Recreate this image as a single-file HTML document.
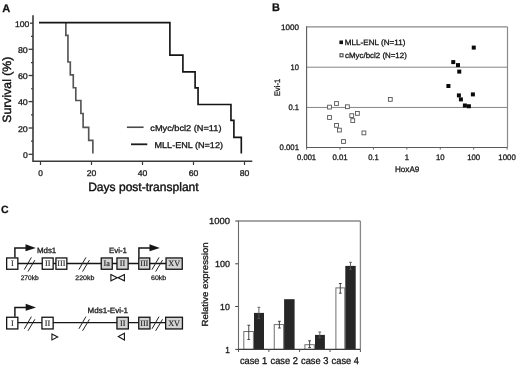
<!DOCTYPE html>
<html><head><meta charset="utf-8"><title>Figure</title>
<style>
html,body{margin:0;padding:0;background:#fff;}
body{width:520px;height:368px;overflow:hidden;}
svg{display:block;font-family:"Liberation Sans", Arial, Helvetica, sans-serif;text-rendering:geometricPrecision;}
</style></head>
<body>
<svg width="520" height="368" viewBox="0 0 520 368">
<rect width="520" height="368" fill="#fff"/>
<text x="2.2" y="11.8" font-size="11.0" text-anchor="start" fill="#111" stroke="#111" stroke-width="0.25" font-weight="bold" textLength="8.0" lengthAdjust="spacingAndGlyphs">A</text>
<path d="M33 15.2 V161.3 H252.3" fill="none" stroke="#3a3a3a" stroke-width="1.6"/>
<line x1="30.0" y1="23.2" x2="33" y2="23.2" stroke="#3a3a3a" stroke-width="1.3"/>
<text x="29.3" y="26.8" font-size="8.3" text-anchor="end" fill="#1a1a1a" stroke="#1a1a1a" stroke-width="0.3" textLength="14.4" lengthAdjust="spacingAndGlyphs">100</text>
<line x1="28.6" y1="49.3" x2="33" y2="49.3" stroke="#3a3a3a" stroke-width="1.3"/>
<text x="27.8" y="52.9" font-size="8.3" text-anchor="end" fill="#1a1a1a" stroke="#1a1a1a" stroke-width="0.3" textLength="9.9" lengthAdjust="spacingAndGlyphs">80</text>
<line x1="28.6" y1="75.5" x2="33" y2="75.5" stroke="#3a3a3a" stroke-width="1.3"/>
<text x="27.8" y="79.1" font-size="8.3" text-anchor="end" fill="#1a1a1a" stroke="#1a1a1a" stroke-width="0.3" textLength="9.9" lengthAdjust="spacingAndGlyphs">60</text>
<line x1="28.6" y1="101.6" x2="33" y2="101.6" stroke="#3a3a3a" stroke-width="1.3"/>
<text x="27.8" y="105.2" font-size="8.3" text-anchor="end" fill="#1a1a1a" stroke="#1a1a1a" stroke-width="0.3" textLength="9.9" lengthAdjust="spacingAndGlyphs">40</text>
<line x1="28.6" y1="128.0" x2="33" y2="128.0" stroke="#3a3a3a" stroke-width="1.3"/>
<text x="27.8" y="131.6" font-size="8.3" text-anchor="end" fill="#1a1a1a" stroke="#1a1a1a" stroke-width="0.3" textLength="9.9" lengthAdjust="spacingAndGlyphs">20</text>
<line x1="28.6" y1="154.3" x2="33" y2="154.3" stroke="#3a3a3a" stroke-width="1.3"/>
<text x="27.8" y="157.9" font-size="8.3" text-anchor="end" fill="#1a1a1a" stroke="#1a1a1a" stroke-width="0.3" textLength="4.8" lengthAdjust="spacingAndGlyphs">0</text>
<line x1="31" y1="36.31" x2="33" y2="36.31" stroke="#3a3a3a" stroke-width="1.2"/>
<line x1="31" y1="62.53" x2="33" y2="62.53" stroke="#3a3a3a" stroke-width="1.2"/>
<line x1="31" y1="88.75" x2="33" y2="88.75" stroke="#3a3a3a" stroke-width="1.2"/>
<line x1="31" y1="114.97" x2="33" y2="114.97" stroke="#3a3a3a" stroke-width="1.2"/>
<line x1="31" y1="141.19" x2="33" y2="141.19" stroke="#3a3a3a" stroke-width="1.2"/>
<line x1="40.5" y1="161.3" x2="40.5" y2="165" stroke="#3a3a3a" stroke-width="1.2"/>
<text x="40.5" y="176.2" font-size="8.3" text-anchor="middle" fill="#1a1a1a" stroke="#1a1a1a" stroke-width="0.3" textLength="4.6" lengthAdjust="spacingAndGlyphs">0</text>
<line x1="91.5" y1="161.3" x2="91.5" y2="165" stroke="#3a3a3a" stroke-width="1.2"/>
<text x="91.5" y="176.2" font-size="8.3" text-anchor="middle" fill="#1a1a1a" stroke="#1a1a1a" stroke-width="0.3" textLength="9.6" lengthAdjust="spacingAndGlyphs">20</text>
<line x1="142.5" y1="161.3" x2="142.5" y2="165" stroke="#3a3a3a" stroke-width="1.2"/>
<text x="142.5" y="176.2" font-size="8.3" text-anchor="middle" fill="#1a1a1a" stroke="#1a1a1a" stroke-width="0.3" textLength="9.6" lengthAdjust="spacingAndGlyphs">40</text>
<line x1="193.5" y1="161.3" x2="193.5" y2="165" stroke="#3a3a3a" stroke-width="1.2"/>
<text x="193.5" y="176.2" font-size="8.3" text-anchor="middle" fill="#1a1a1a" stroke="#1a1a1a" stroke-width="0.3" textLength="9.6" lengthAdjust="spacingAndGlyphs">60</text>
<line x1="244.5" y1="161.3" x2="244.5" y2="165" stroke="#3a3a3a" stroke-width="1.2"/>
<text x="244.5" y="176.2" font-size="8.3" text-anchor="middle" fill="#1a1a1a" stroke="#1a1a1a" stroke-width="0.3" textLength="9.6" lengthAdjust="spacingAndGlyphs">80</text>
<text x="143.4" y="191.0" font-size="12.0" text-anchor="middle" fill="#111" stroke="#111" stroke-width="0.4" textLength="110.5" lengthAdjust="spacingAndGlyphs">Days post-transplant</text>
<text x="10.9" y="89.7" font-size="12.0" text-anchor="middle" fill="#111" stroke="#111" stroke-width="0.4" textLength="66.0" lengthAdjust="spacingAndGlyphs" transform="rotate(-90 10.9 89.7)">Survival (%)</text>
<path d="M65.85 22.6 V35.35 H67.95 V62.0 H70.3 V74.9 H73.28 V87.7 H75.8 V100.5 H80.9 V113.5 H83.1 V127.35 H88.7 V140.4 H92.87 V153.5" fill="none" stroke="#555" stroke-width="1.65"/>
<path d="M39 22.6 H169.9 V55.15 H182.9 V71.9 H195.1 V87.85 H198.05 V104.5 H230.96 V120.4 H233.9 V137.4 H241.3 V153.6" fill="none" stroke="#151515" stroke-width="1.65"/>
<line x1="126.9" y1="127.25" x2="143.6" y2="127.25" stroke="#4a4a4a" stroke-width="1.6"/>
<line x1="131" y1="144.3" x2="147.3" y2="144.3" stroke="#1c1c1c" stroke-width="1.8"/>
<text x="150.3" y="131.1" font-size="8.4" text-anchor="start" fill="#151515" stroke="#151515" stroke-width="0.3" textLength="71.2" lengthAdjust="spacingAndGlyphs">cMyc/bcl2 (N=11)</text>
<text x="154.5" y="148.0" font-size="8.4" text-anchor="start" fill="#151515" stroke="#151515" stroke-width="0.3" textLength="68.5" lengthAdjust="spacingAndGlyphs">MLL-ENL (N=12)</text>
<text x="272.0" y="10.9" font-size="11.0" text-anchor="start" fill="#111" stroke="#111" stroke-width="0.25" font-weight="bold" textLength="7.9" lengthAdjust="spacingAndGlyphs">B</text>
<line x1="306.6" y1="26.9" x2="507.5" y2="26.9" stroke="#8a8a8a" stroke-width="1.3"/>
<line x1="507.5" y1="26.9" x2="507.5" y2="147.45" stroke="#8a8a8a" stroke-width="1.2"/>
<line x1="306.6" y1="67.2" x2="507.5" y2="67.2" stroke="#858585" stroke-width="1.0"/>
<line x1="306.6" y1="107.45" x2="507.5" y2="107.45" stroke="#858585" stroke-width="1.0"/>
<path d="M306.6 26.3 V147.45 H507.5" fill="none" stroke="#5a5a5a" stroke-width="1.1"/>
<line x1="306.60" y1="147.45" x2="306.60" y2="149.6" stroke="#6a6a6a" stroke-width="1"/>
<line x1="340.02" y1="147.45" x2="340.02" y2="149.6" stroke="#6a6a6a" stroke-width="1"/>
<line x1="373.44" y1="147.45" x2="373.44" y2="149.6" stroke="#6a6a6a" stroke-width="1"/>
<line x1="406.86" y1="147.45" x2="406.86" y2="149.6" stroke="#6a6a6a" stroke-width="1"/>
<line x1="440.28" y1="147.45" x2="440.28" y2="149.6" stroke="#6a6a6a" stroke-width="1"/>
<line x1="473.70" y1="147.45" x2="473.70" y2="149.6" stroke="#6a6a6a" stroke-width="1"/>
<line x1="507.12" y1="147.45" x2="507.12" y2="149.6" stroke="#6a6a6a" stroke-width="1"/>
<text x="299.0" y="29.6" font-size="7.9" text-anchor="end" fill="#1a1a1a" stroke="#1a1a1a" stroke-width="0.3" textLength="18.0" lengthAdjust="spacingAndGlyphs">1000</text>
<text x="299.0" y="69.65" font-size="7.9" text-anchor="end" fill="#1a1a1a" stroke="#1a1a1a" stroke-width="0.3" textLength="8.4" lengthAdjust="spacingAndGlyphs">10</text>
<text x="299.0" y="109.8" font-size="7.9" text-anchor="end" fill="#1a1a1a" stroke="#1a1a1a" stroke-width="0.3" textLength="10.6" lengthAdjust="spacingAndGlyphs">0.1</text>
<text x="299.0" y="149.9" font-size="7.9" text-anchor="end" fill="#1a1a1a" stroke="#1a1a1a" stroke-width="0.3" textLength="19.4" lengthAdjust="spacingAndGlyphs">0.001</text>
<text x="306.6" y="159.7" font-size="7.9" text-anchor="middle" fill="#1a1a1a" stroke="#1a1a1a" stroke-width="0.3" textLength="19.0" lengthAdjust="spacingAndGlyphs">0.001</text>
<text x="340.02" y="159.7" font-size="7.9" text-anchor="middle" fill="#1a1a1a" stroke="#1a1a1a" stroke-width="0.3" textLength="15.2" lengthAdjust="spacingAndGlyphs">0.01</text>
<text x="373.44" y="159.7" font-size="7.9" text-anchor="middle" fill="#1a1a1a" stroke="#1a1a1a" stroke-width="0.3" textLength="10.6" lengthAdjust="spacingAndGlyphs">0.1</text>
<text x="406.86" y="159.7" font-size="7.9" text-anchor="middle" fill="#1a1a1a" stroke="#1a1a1a" stroke-width="0.3" textLength="4.3" lengthAdjust="spacingAndGlyphs">1</text>
<text x="440.28" y="159.7" font-size="7.9" text-anchor="middle" fill="#1a1a1a" stroke="#1a1a1a" stroke-width="0.3" textLength="8.6" lengthAdjust="spacingAndGlyphs">10</text>
<text x="473.7" y="159.7" font-size="7.9" text-anchor="middle" fill="#1a1a1a" stroke="#1a1a1a" stroke-width="0.3" textLength="13.0" lengthAdjust="spacingAndGlyphs">100</text>
<text x="507.12" y="159.7" font-size="7.9" text-anchor="middle" fill="#1a1a1a" stroke="#1a1a1a" stroke-width="0.3" textLength="17.5" lengthAdjust="spacingAndGlyphs">1000</text>
<text x="395.0" y="172.2" font-size="8.0" text-anchor="start" fill="#1a1a1a" stroke="#1a1a1a" stroke-width="0.3" textLength="24.3" lengthAdjust="spacingAndGlyphs">HoxA9</text>
<text x="280.0" y="87.5" font-size="8.0" text-anchor="middle" fill="#1a1a1a" stroke="#1a1a1a" stroke-width="0.3" textLength="17.5" lengthAdjust="spacingAndGlyphs" transform="rotate(-90 280.0 87.5)">Evi-1</text>
<rect x="339.4" y="40.5" width="3.6" height="3.6" fill="#111"/>
<text x="344.8" y="45.3" font-size="7.7" text-anchor="start" fill="#151515" stroke="#151515" stroke-width="0.3" textLength="60.6" lengthAdjust="spacingAndGlyphs">MLL-ENL (N=11)</text>
<rect x="340.0" y="53.8" width="3.0" height="3.0" fill="#fff" stroke="#333" stroke-width="1.0"/>
<text x="345.0" y="57.9" font-size="7.7" text-anchor="start" fill="#151515" stroke="#151515" stroke-width="0.3" textLength="61.8" lengthAdjust="spacingAndGlyphs">cMyc/bcl2 (N=12)</text>
<rect x="327.60" y="105.20" width="3.8" height="3.8" fill="#fff" stroke="#555" stroke-width="0.9"/>
<rect x="334.60" y="101.60" width="3.8" height="3.8" fill="#fff" stroke="#555" stroke-width="0.9"/>
<rect x="345.50" y="104.85" width="3.8" height="3.8" fill="#fff" stroke="#555" stroke-width="0.9"/>
<rect x="327.60" y="115.60" width="3.8" height="3.8" fill="#fff" stroke="#555" stroke-width="0.9"/>
<rect x="349.85" y="113.70" width="3.8" height="3.8" fill="#fff" stroke="#555" stroke-width="0.9"/>
<rect x="355.50" y="111.50" width="3.8" height="3.8" fill="#fff" stroke="#555" stroke-width="0.9"/>
<rect x="350.85" y="118.70" width="3.8" height="3.8" fill="#fff" stroke="#555" stroke-width="0.9"/>
<rect x="334.60" y="123.50" width="3.8" height="3.8" fill="#fff" stroke="#555" stroke-width="0.9"/>
<rect x="337.50" y="128.20" width="3.8" height="3.8" fill="#fff" stroke="#555" stroke-width="0.9"/>
<rect x="362.00" y="131.00" width="3.8" height="3.8" fill="#fff" stroke="#555" stroke-width="0.9"/>
<rect x="341.60" y="139.60" width="3.8" height="3.8" fill="#fff" stroke="#555" stroke-width="0.9"/>
<rect x="388.40" y="97.50" width="3.8" height="3.8" fill="#fff" stroke="#555" stroke-width="0.9"/>
<rect x="471.75" y="45.60" width="4" height="4" fill="#0a0a0a"/>
<rect x="451.25" y="60.10" width="4" height="4" fill="#0a0a0a"/>
<rect x="456.00" y="63.10" width="4" height="4" fill="#0a0a0a"/>
<rect x="457.25" y="69.60" width="4" height="4" fill="#0a0a0a"/>
<rect x="446.40" y="84.00" width="4" height="4" fill="#0a0a0a"/>
<rect x="456.90" y="93.40" width="4" height="4" fill="#0a0a0a"/>
<rect x="458.90" y="97.40" width="4" height="4" fill="#0a0a0a"/>
<rect x="470.90" y="92.40" width="4" height="4" fill="#0a0a0a"/>
<rect x="462.90" y="103.50" width="4" height="4" fill="#0a0a0a"/>
<rect x="466.90" y="104.25" width="4" height="4" fill="#0a0a0a"/>
<text x="1.0" y="212.7" font-size="10.5" text-anchor="start" fill="#111" stroke="#111" stroke-width="0.25" font-weight="bold" textLength="7.6" lengthAdjust="spacingAndGlyphs">C</text>
<line x1="12" y1="263.5" x2="175" y2="263.5" stroke="#151515" stroke-width="1.3"/>
<rect x="6.65" y="257.95" width="11.20" height="11.30" fill="#ffffff" stroke="#151515" stroke-width="1.3"/>
<text x="12.25" y="266.15" font-size="8.2" text-anchor="middle" fill="#1e1e1e" stroke="#1e1e1e" stroke-width="0.15" font-family='"Liberation Serif", "Times New Roman", serif'>I</text>
<rect x="42.25" y="257.95" width="10.90" height="11.30" fill="#ffffff" stroke="#151515" stroke-width="1.3"/>
<text x="47.7" y="266.15" font-size="8.2" text-anchor="middle" fill="#1e1e1e" stroke="#1e1e1e" stroke-width="0.15" font-family='"Liberation Serif", "Times New Roman", serif'>II</text>
<rect x="55.95" y="257.95" width="10.90" height="11.30" fill="#ffffff" stroke="#151515" stroke-width="1.3"/>
<text x="61.4" y="266.15" font-size="8.2" text-anchor="middle" fill="#1e1e1e" stroke="#1e1e1e" stroke-width="0.15" font-family='"Liberation Serif", "Times New Roman", serif'>III</text>
<rect x="101.25" y="257.95" width="11.00" height="11.30" fill="#d4d4d4" stroke="#151515" stroke-width="1.3"/>
<text x="106.75" y="266.15" font-size="8.2" text-anchor="middle" fill="#1e1e1e" stroke="#1e1e1e" stroke-width="0.15" font-family='"Liberation Serif", "Times New Roman", serif'>Ia</text>
<rect x="116.95" y="257.95" width="11.20" height="11.30" fill="#d4d4d4" stroke="#151515" stroke-width="1.3"/>
<text x="122.55" y="266.15" font-size="8.2" text-anchor="middle" fill="#1e1e1e" stroke="#1e1e1e" stroke-width="0.15" font-family='"Liberation Serif", "Times New Roman", serif'>II</text>
<rect x="138.75" y="257.95" width="11.00" height="11.30" fill="#d4d4d4" stroke="#151515" stroke-width="1.3"/>
<text x="144.25" y="266.15" font-size="8.2" text-anchor="middle" fill="#1e1e1e" stroke="#1e1e1e" stroke-width="0.15" font-family='"Liberation Serif", "Times New Roman", serif'>III</text>
<rect x="166.05" y="257.95" width="16.20" height="11.30" fill="#d4d4d4" stroke="#151515" stroke-width="1.3"/>
<text x="174.15" y="266.15" font-size="8.2" text-anchor="middle" fill="#1e1e1e" stroke="#1e1e1e" stroke-width="0.15" font-family='"Liberation Serif", "Times New Roman", serif'>XV</text>
<line x1="24.35" y1="269.60" x2="31.40" y2="257.40" stroke="#222" stroke-width="1.0"/>
<line x1="28.00" y1="271.60" x2="34.90" y2="260.10" stroke="#222" stroke-width="1.0"/>
<line x1="78.90" y1="269.60" x2="85.95" y2="257.40" stroke="#222" stroke-width="1.0"/>
<line x1="82.55" y1="271.60" x2="89.45" y2="260.10" stroke="#222" stroke-width="1.0"/>
<line x1="152.00" y1="269.60" x2="159.05" y2="257.40" stroke="#222" stroke-width="1.0"/>
<line x1="155.65" y1="271.60" x2="162.55" y2="260.10" stroke="#222" stroke-width="1.0"/>
<path d="M14.9 257.6 V247.95 H26.5" fill="none" stroke="#151515" stroke-width="1.45"/>
<path d="M25.5 244.14999999999998 L35.8 247.95 L25.5 251.14999999999998 Z" fill="#151515"/>
<path d="M138.9 257.6 V248.05 H150.5" fill="none" stroke="#151515" stroke-width="1.45"/>
<path d="M149.5 244.25 L159.8 248.05 L149.5 251.25 Z" fill="#151515"/>
<text x="36.9" y="252.7" font-size="7.8" text-anchor="start" fill="#1a1a1a" stroke="#1a1a1a" stroke-width="0.3" textLength="19.4" lengthAdjust="spacingAndGlyphs">Mds1</text>
<text x="109.0" y="252.7" font-size="7.8" text-anchor="start" fill="#1a1a1a" stroke="#1a1a1a" stroke-width="0.3" textLength="17.9" lengthAdjust="spacingAndGlyphs">Evi-1</text>
<text x="29.7" y="280.3" font-size="6.6" text-anchor="middle" fill="#222" stroke="#222" stroke-width="0.25" textLength="18.1" lengthAdjust="spacingAndGlyphs">270kb</text>
<text x="84.8" y="280.3" font-size="6.6" text-anchor="middle" fill="#222" stroke="#222" stroke-width="0.25" textLength="19.1" lengthAdjust="spacingAndGlyphs">220kb</text>
<text x="158.6" y="280.3" font-size="6.6" text-anchor="middle" fill="#222" stroke="#222" stroke-width="0.25" textLength="15.2" lengthAdjust="spacingAndGlyphs">60kb</text>
<path d="M110.9 274.6 L117.2 277.7 L110.9 280.8 Z" fill="none" stroke="#151515" stroke-width="1.1"/>
<path d="M124.4 274.6 L118.1 277.7 L124.4 280.8 Z" fill="none" stroke="#151515" stroke-width="1.1"/>
<line x1="12" y1="322.7" x2="175" y2="322.7" stroke="#151515" stroke-width="1.3"/>
<rect x="6.65" y="317.25" width="11.20" height="11.70" fill="#ffffff" stroke="#151515" stroke-width="1.3"/>
<text x="12.25" y="325.65" font-size="8.2" text-anchor="middle" fill="#1e1e1e" stroke="#1e1e1e" stroke-width="0.15" font-family='"Liberation Serif", "Times New Roman", serif'>I</text>
<rect x="41.95" y="317.25" width="11.20" height="11.70" fill="#ffffff" stroke="#151515" stroke-width="1.3"/>
<text x="47.55" y="325.65" font-size="8.2" text-anchor="middle" fill="#1e1e1e" stroke="#1e1e1e" stroke-width="0.15" font-family='"Liberation Serif", "Times New Roman", serif'>II</text>
<rect x="116.95" y="317.25" width="11.40" height="11.70" fill="#d4d4d4" stroke="#151515" stroke-width="1.3"/>
<text x="122.65" y="325.65" font-size="8.2" text-anchor="middle" fill="#1e1e1e" stroke="#1e1e1e" stroke-width="0.15" font-family='"Liberation Serif", "Times New Roman", serif'>II</text>
<rect x="138.75" y="317.25" width="11.20" height="11.70" fill="#d4d4d4" stroke="#151515" stroke-width="1.3"/>
<text x="144.35" y="325.65" font-size="8.2" text-anchor="middle" fill="#1e1e1e" stroke="#1e1e1e" stroke-width="0.15" font-family='"Liberation Serif", "Times New Roman", serif'>III</text>
<rect x="165.65" y="317.25" width="16.80" height="11.70" fill="#d4d4d4" stroke="#151515" stroke-width="1.3"/>
<text x="174.05" y="325.65" font-size="8.2" text-anchor="middle" fill="#1e1e1e" stroke="#1e1e1e" stroke-width="0.15" font-family='"Liberation Serif", "Times New Roman", serif'>XV</text>
<line x1="24.35" y1="328.80" x2="31.40" y2="316.60" stroke="#222" stroke-width="1.0"/>
<line x1="28.00" y1="330.80" x2="34.90" y2="319.30" stroke="#222" stroke-width="1.0"/>
<line x1="78.90" y1="328.80" x2="85.95" y2="316.60" stroke="#222" stroke-width="1.0"/>
<line x1="82.55" y1="330.80" x2="89.45" y2="319.30" stroke="#222" stroke-width="1.0"/>
<line x1="152.00" y1="328.80" x2="159.05" y2="316.60" stroke="#222" stroke-width="1.0"/>
<line x1="155.65" y1="330.80" x2="162.55" y2="319.30" stroke="#222" stroke-width="1.0"/>
<path d="M14.9 316.7 V307.45 H26.7" fill="none" stroke="#151515" stroke-width="1.45"/>
<path d="M25.7 303.65 L36.0 307.45 L25.7 310.65 Z" fill="#151515"/>
<text x="87.5" y="312.7" font-size="7.8" text-anchor="start" fill="#1a1a1a" stroke="#1a1a1a" stroke-width="0.3" textLength="40.6" lengthAdjust="spacingAndGlyphs">Mds1-Evi-1</text>
<path d="M51.9 334.1 L57.7 337.0 L51.9 339.9 Z" fill="none" stroke="#151515" stroke-width="1.1"/>
<path d="M124.4 333.2 L118.3 336.6 L124.4 340.1 Z" fill="none" stroke="#151515" stroke-width="1.1"/>
<line x1="238.5" y1="221" x2="360.4" y2="221" stroke="#888" stroke-width="1.3"/>
<line x1="360.4" y1="221" x2="360.4" y2="349.4" stroke="#888" stroke-width="1.3"/>
<line x1="235.3" y1="221.0" x2="238.5" y2="221.0" stroke="#3a3a3a" stroke-width="1"/>
<text x="229.9" y="224.2" font-size="8.9" text-anchor="end" fill="#1a1a1a" stroke="#1a1a1a" stroke-width="0.3" textLength="21.0" lengthAdjust="spacingAndGlyphs">1000</text>
<line x1="235.3" y1="263.8" x2="238.5" y2="263.8" stroke="#3a3a3a" stroke-width="1"/>
<text x="229.9" y="267.0" font-size="8.9" text-anchor="end" fill="#1a1a1a" stroke="#1a1a1a" stroke-width="0.3" textLength="15.0" lengthAdjust="spacingAndGlyphs">100</text>
<line x1="235.3" y1="306.5" x2="238.5" y2="306.5" stroke="#3a3a3a" stroke-width="1"/>
<text x="229.9" y="309.7" font-size="8.9" text-anchor="end" fill="#1a1a1a" stroke="#1a1a1a" stroke-width="0.3" textLength="9.8" lengthAdjust="spacingAndGlyphs">10</text>
<line x1="235.3" y1="349.4" x2="238.5" y2="349.4" stroke="#3a3a3a" stroke-width="1"/>
<text x="229.9" y="352.6" font-size="8.9" text-anchor="end" fill="#1a1a1a" stroke="#1a1a1a" stroke-width="0.3" textLength="4.6" lengthAdjust="spacingAndGlyphs">1</text>
<text x="207.8" y="284.4" font-size="8.8" text-anchor="middle" fill="#151515" stroke="#151515" stroke-width="0.3" textLength="84.3" lengthAdjust="spacingAndGlyphs" transform="rotate(-90 207.8 284.4)">Relative expression</text>
<rect x="243.80" y="331.50" width="9.60" height="17.90" fill="#fff" stroke="#707070" stroke-width="1"/>
<path d="M248.75 325.2 V339.5 M247.35 325.2 H250.15 M247.35 339.5 H250.15" fill="none" stroke="#333" stroke-width="0.9"/>
<rect x="254.00" y="312.90" width="10.00" height="36.50" fill="#262626"/>
<path d="M258.9 307.3 V318.5 M257.5 307.3 H260.29999999999995 M257.5 318.5 H260.29999999999995" fill="none" stroke="#555" stroke-width="0.9"/>
<rect x="274.25" y="324.60" width="9.35" height="24.80" fill="#fff" stroke="#707070" stroke-width="1"/>
<path d="M279.4 321.3 V328.0 M278.0 321.3 H280.79999999999995 M278.0 328.0 H280.79999999999995" fill="none" stroke="#333" stroke-width="0.9"/>
<rect x="284.10" y="299.20" width="10.50" height="50.20" fill="#262626"/>
<rect x="304.90" y="344.70" width="9.40" height="4.70" fill="#fff" stroke="#707070" stroke-width="1"/>
<path d="M309.6 340.8 V347.6 M308.20000000000005 340.8 H311.0 M308.20000000000005 347.6 H311.0" fill="none" stroke="#333" stroke-width="0.9"/>
<rect x="315.00" y="334.90" width="9.90" height="14.50" fill="#262626"/>
<path d="M319.8 332.0 V337.8 M318.40000000000003 332.0 H321.2 M318.40000000000003 337.8 H321.2" fill="none" stroke="#555" stroke-width="0.9"/>
<rect x="335.90" y="287.90" width="8.90" height="61.50" fill="#fff" stroke="#707070" stroke-width="1"/>
<path d="M340.3 283.5 V293.2 M338.90000000000003 283.5 H341.7 M338.90000000000003 293.2 H341.7" fill="none" stroke="#333" stroke-width="0.9"/>
<rect x="345.30" y="265.90" width="10.40" height="83.50" fill="#262626"/>
<path d="M350.5 262.3 V269.6 M349.1 262.3 H351.9 M349.1 269.6 H351.9" fill="none" stroke="#555" stroke-width="0.9"/>
<line x1="238.5" y1="220.5" x2="238.5" y2="349.4" stroke="#6a6a6a" stroke-width="1.1"/>
<line x1="237.9" y1="349.4" x2="360.4" y2="349.4" stroke="#3c3c3c" stroke-width="1.2"/>
<line x1="238.5" y1="349.4" x2="238.5" y2="352" stroke="#555" stroke-width="1"/>
<line x1="268.9" y1="349.4" x2="268.9" y2="352" stroke="#555" stroke-width="1"/>
<line x1="299.6" y1="349.4" x2="299.6" y2="352" stroke="#555" stroke-width="1"/>
<line x1="330.0" y1="349.4" x2="330.0" y2="352" stroke="#555" stroke-width="1"/>
<line x1="360.4" y1="349.4" x2="360.4" y2="352" stroke="#555" stroke-width="1"/>
<text x="253.6" y="364.3" font-size="9.9" text-anchor="middle" fill="#151515" stroke="#151515" stroke-width="0.3" textLength="27.4" lengthAdjust="spacingAndGlyphs">case 1</text>
<text x="284.2" y="364.3" font-size="9.9" text-anchor="middle" fill="#151515" stroke="#151515" stroke-width="0.3" textLength="27.4" lengthAdjust="spacingAndGlyphs">case 2</text>
<text x="314.7" y="364.3" font-size="9.9" text-anchor="middle" fill="#151515" stroke="#151515" stroke-width="0.3" textLength="27.4" lengthAdjust="spacingAndGlyphs">case 3</text>
<text x="345.3" y="364.3" font-size="9.9" text-anchor="middle" fill="#151515" stroke="#151515" stroke-width="0.3" textLength="27.4" lengthAdjust="spacingAndGlyphs">case 4</text>
</svg>
</body></html>
